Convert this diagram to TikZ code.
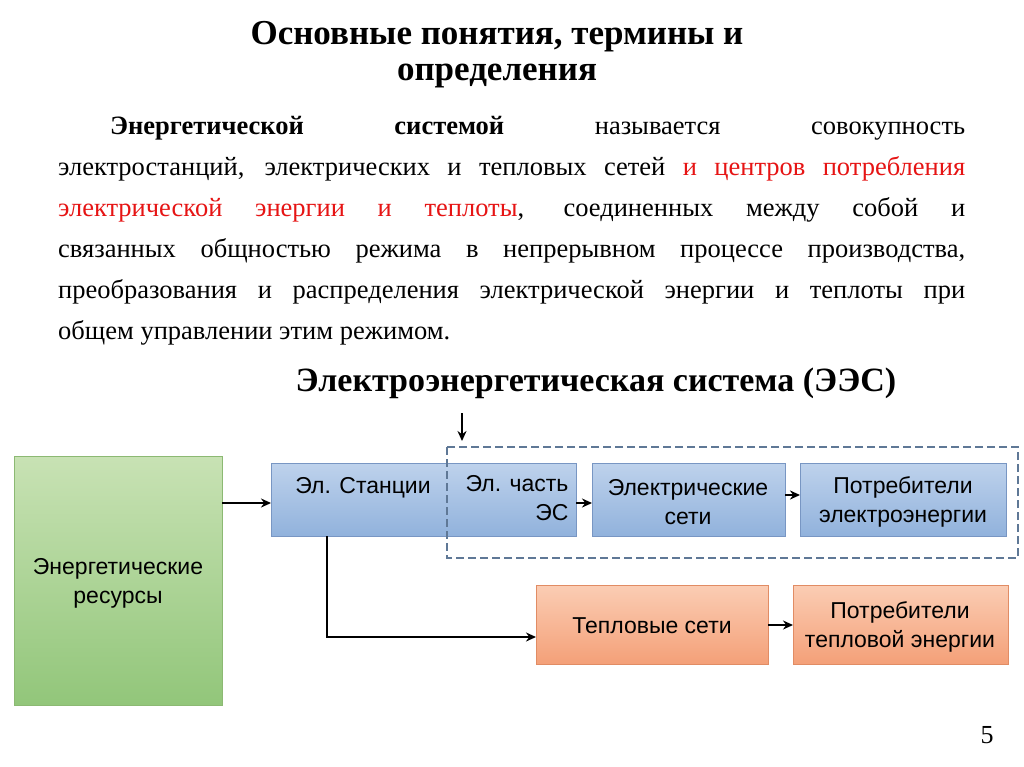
\documentclass[tikz,border=0pt]{standalone}
\usepackage{fontspec}
\usetikzlibrary{arrows.meta}
\setmainfont{Liberation Serif}
\newfontfamily\sansf{Liberation Sans}
\definecolor{redt}{RGB}{230,20,20}
\definecolor{gtop}{RGB}{200,226,180}
\definecolor{gbot}{RGB}{146,198,122}
\definecolor{gline}{RGB}{140,185,115}
\definecolor{btop}{RGB}{190,210,236}
\definecolor{bbot}{RGB}{145,178,220}
\definecolor{bline}{RGB}{120,150,195}
\definecolor{otop}{RGB}{251,205,180}
\definecolor{obot}{RGB}{244,160,120}
\definecolor{oline}{RGB}{225,140,100}
\definecolor{dline}{RGB}{95,120,150}
\begin{document}
\begin{tikzpicture}[x=1pt,y=-1pt,
  txt/.style={font=\sansf\fontsize{23}{29}\selectfont, align=center},
  arr/.style={-{Stealth[length=10pt,width=9pt]}, line width=2pt}]
\useasboundingbox (0,0) rectangle (1024,767);
\fill[white] (0,0) rectangle (1024,767);
\node[font=\bfseries\fontsize{35}{36}\selectfont, align=center] (title) at (497,55) {Основные понятия, термины и\\определения};
\node[text width=907pt, align=justify, anchor=north west, inner sep=0pt, font=\fontsize{26.5}{41}\selectfont] (para) at (58,116)
{\hspace*{52pt}\textbf{Энергетической системой} называется совокупность\linebreak
электростанций, электрических и тепловых сетей \textcolor{redt}{и центров потребления}\linebreak
\textcolor{redt}{электрической энергии и теплоты}, соединенных между собой и\linebreak
связанных общностью режима в непрерывном процессе производства,\linebreak
преобразования и распределения электрической энергии и теплоты при\linebreak
общем управлении этим режимом.};
\node[font=\bfseries\fontsize{34}{36}\selectfont] (ees) at (596,383) {Электроэнергетическая система (ЭЭС)};
\shade[top color=gtop, bottom color=gbot] (14,456) rectangle (222,705);
\draw[gline, line width=0.8pt] (14,456) rectangle (222,705);
\node[txt] (res) at (118,583) {Энергетические\\ресурсы};
\coordinate (resR) at (222,503);
\tikzset{bluebox/.style={top color=btop, bottom color=bbot}}
\shade[bluebox] (271,463) rectangle (576,536);
\draw[bline, line width=0.8pt] (271,463) rectangle (576,536);
\node[txt] (st) at (363,488) {Эл. Станции};
\node[txt, align=right, anchor=north east] (ch) at (572,472) {Эл. часть\\ЭС};
\coordinate (b1L) at (271,503);
\coordinate (b1R) at (576,503);
\shade[bluebox] (592,463) rectangle (785,536);
\draw[bline, line width=0.8pt] (592,463) rectangle (785,536);
\node[txt] (es) at (688,502) {Электрические\\сети};
\coordinate (b2L) at (592,503);
\coordinate (b2R) at (785,495);
\shade[bluebox] (800,463) rectangle (1006,536);
\draw[bline, line width=0.8pt] (800,463) rectangle (1006,536);
\node[txt] (pe) at (903,502) {Потребители\\электроэнергии};
\coordinate (b3L) at (800,495);
\draw[dash pattern=on 8pt off 4pt, draw=dline, line width=1.3pt] (447,447) rectangle (1018,558);
\coordinate (dtop) at (462,413);
\coordinate (dbot) at (462,441);
\tikzset{orbox/.style={top color=otop, bottom color=obot}}
\shade[orbox] (536,585) rectangle (768,664);
\draw[oline, line width=0.8pt] (536,585) rectangle (768,664);
\node[txt] (ts) at (652,626) {Тепловые сети};
\shade[orbox] (793,585) rectangle (1008,664);
\draw[oline, line width=0.8pt] (793,585) rectangle (1008,664);
\node[txt] (pt) at (900,627) {Потребители\\тепловой энергии};
\coordinate (o1L) at (536,637);
\coordinate (o1R) at (768,625);
\coordinate (o2L) at (793,625);
\coordinate (st0) at (327,536);
\draw[arr] (resR) -- (b1L);
\draw[arr] (b1R) -- (b2L);
\draw[arr] (b2R) -- (b3L);
\draw[arr] (dtop) -- (dbot);
\draw[arr] (st0) |- (o1L);
\draw[arr] (o1R) -- (o2L);
\node[font=\fontsize{26}{28}\selectfont] (pg) at (987,735) {5};
\end{tikzpicture}
\end{document}
